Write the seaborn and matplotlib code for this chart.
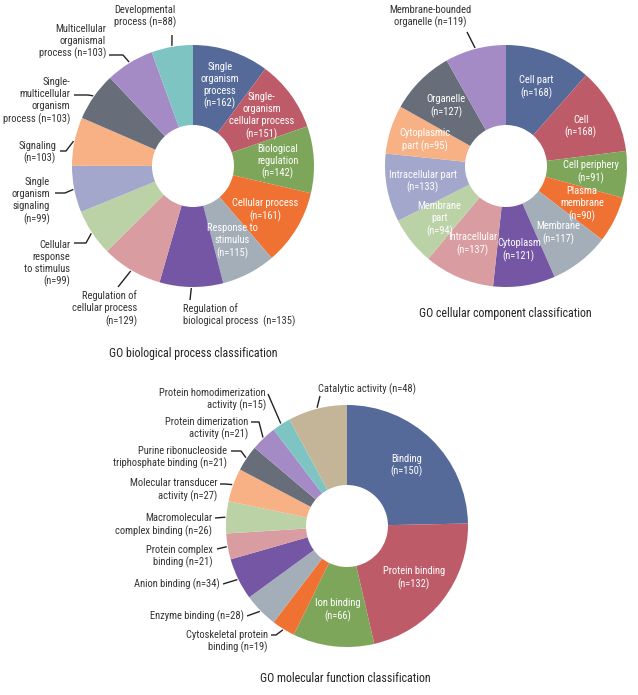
import numpy as np
import matplotlib
matplotlib.use("Agg")
import matplotlib.pyplot as plt
import seaborn as sns

# ---------------- data ----------------
bp_labels = ["Single\norganism\nprocess\n(n={n})",
             "Single-\norganism\ncellular process\n(n={n})",
             "Biological\nregulation\n(n={n})",
             "Cellular process\n(n={n})",
             "Response to\nstimulus\n(n={n})",
             "Regulation of\nbiological process  (n={n})",
             "Regulation of\ncellular process\n(n={n})",
             "Cellular\nresponse\nto stimulus\n(n={n})",
             "Single\norganism\nsignaling\n(n={n})",
             "Signaling\n(n={n})",
             "Single-\nmulticellular\norganism\nprocess (n={n})",
             "Multicellular\norganismal\nprocess (n={n})",
             "Developmental\nprocess (n={n})"]
bp_values = [162, 151, 142, 161, 115, 135, 129, 99, 99, 103, 103, 103, 88]

cc_labels = ["Cell part\n(n={n})",
             "Cell\n(n={n})",
             "Cell periphery\n(n={n})",
             "Plasma\nmembrane\n(n={n})",
             "Membrane\n(n={n})",
             "Cytoplasm\n(n={n})",
             "Intracellular\n(n={n})",
             "Membrane\npart\n(n={n})",
             "Intracellular part\n(n={n})",
             "Cytoplasmic\npart (n={n})",
             "Organelle\n(n={n})",
             "Membrane-bounded\norganelle (n={n})"]
cc_values = [168, 168, 91, 90, 117, 121, 137, 94, 133, 95, 127, 119]

mf_labels = ["Binding\n(n={n})",
             "Protein binding\n(n={n})",
             "Ion binding\n(n={n})",
             "Cytoskeletal protein\nbinding (n={n})",
             "Enzyme binding (n={n})",
             "Anion binding (n={n})",
             "Protein complex\nbinding (n={n})",
             "Macromolecular\ncomplex binding (n={n})",
             "Molecular transducer\nactivity (n={n})",
             "Purine ribonucleoside\ntriphosphate binding (n={n})",
             "Protein dimerization\nactivity (n={n})",
             "Protein homodimerization\nactivity (n={n})",
             "Catalytic activity (n={n})"]
mf_values = [150, 132, 66, 19, 28, 34, 21, 26, 27, 21, 21, 15, 48]

titles = ["GO biological process classification",
          "GO cellular component classification",
          "GO molecular function classification"]

# ---------------- style ----------------
BLUE, RED, GREEN, ORANGE = "#566A9A", "#BE5B68", "#7DA65B", "#F07232"
GREY, PURPLE, PINK, LGREEN = "#A4AEB9", "#7556A4", "#D99CA0", "#BBD1A6"
LLAV, PEACH, DGREY, LAV = "#A3A7CB", "#F7B184", "#676E79", "#A58BC6"
TEAL, TAN = "#7DC4C3", "#C5B598"

bp_colors = [BLUE, RED, GREEN, ORANGE, GREY, PURPLE, PINK, LGREEN, LLAV, PEACH, DGREY, LAV, TEAL]
cc_colors = [BLUE, RED, GREEN, ORANGE, GREY, PURPLE, PINK, LGREEN, LLAV, PEACH, DGREY, LAV]
mf_colors = [BLUE, RED, GREEN, ORANGE, GREY, PURPLE, PINK, LGREEN, PEACH, DGREY, LAV, TEAL, TAN]

# outside-label layout (pixel coords): index -> (text x, text y, ha, anchor x, anchor y, knee dx)
bp_out = {5: (183, 315, "left", 190, 300, 0),
          6: (137, 308.5, "right", 118, 287, 0),
          7: (70, 263.5, "right", 74, 243, 12),
          8: (50, 201, "right", 55, 193, 10),
          9: (56, 152.5, "right", 60, 151, 6),
          10: (70, 101, "right", 74, 95, 14),
          11: (106, 41.5, "right", 109, 55, 14),
          12: (145, 16.5, "center", 172, 35, 0)}
cc_out = {11: (430, 16.5, "center", 467, 32, 0)}
mf_out = {3: (268, 641.5, "right", 271, 635, 5),
          4: (244, 616, "right", 247, 616, 0),
          5: (220, 584, "right", 223, 584, 0),
          6: (213, 556.5, "right", 217, 549, 0),
          7: (212, 525, "right", 215, 518, 0),
          8: (217, 490, "right", 220, 484, 5),
          9: (227, 457.5, "right", 231, 451, 10),
          10: (248, 428.5, "right", 251, 422, 8),
          11: (266, 399.5, "right", 268, 394, 0),
          12: (318, 389, "left", 320, 396, 0)}

W, H = 638, 695
R, R0 = 121, 41
FS = 7.6

sns.set_theme(style="white")
plt.rcParams['font.family'] = ['Roboto Condensed', 'Archivo Narrow', 'PT Sans Narrow',
                               'Open Sans Condensed', 'DejaVu Sans']

fig = plt.figure(figsize=(W / 100, H / 100), dpi=100)
ax = fig.add_axes([0, 0, 1, 1])


def donut(cx, cy, values, labels, colors, out_layout, rfac=0.7):
    cyu = H - cy
    total = float(sum(values))
    ax.pie(values, colors=colors, startangle=90, counterclock=False,
           center=(cx, cyu), radius=R, frame=True,
           wedgeprops=dict(width=R - R0, linewidth=0, edgecolor="none"))
    cum = 0.0
    for i, (v, lab) in enumerate(zip(values, labels)):
        mid = np.deg2rad(90 - 360 * (cum + v / 2) / total)
        cum += v
        txt = lab.format(n=v)
        if i not in out_layout:
            ax.text(cx + rfac * R * np.cos(mid), cyu + rfac * R * np.sin(mid), txt,
                    ha="center", va="center", color="white", fontsize=FS,
                    linespacing=1.25, multialignment="center")
        else:
            tx, ty, ha, axp, ayp, kdx = out_layout[i]
            ax.text(tx, H - ty, txt, ha=ha, va="center", color="#333333",
                    fontsize=FS, linespacing=1.25, multialignment=ha)
            tgt = (cx + (R + 1) * np.cos(mid), cyu + (R + 1) * np.sin(mid))
            xs = [axp, axp + kdx, tgt[0]]
            ys = [H - ayp, H - ayp, tgt[1]]
            ax.plot(xs, ys, color="#222222", lw=1.0, solid_capstyle="butt")


donut(193, 166, bp_values, bp_labels, bp_colors, bp_out)
donut(506, 166, cc_values, cc_labels, cc_colors, cc_out)
donut(347, 526, mf_values, mf_labels, mf_colors, mf_out)

ax.text(193, H - 353, titles[0], ha="center", va="center", fontsize=8.6, color="#222222")
ax.text(505, H - 313, titles[1], ha="center", va="center", fontsize=8.6, color="#222222")
ax.text(345, H - 678, titles[2], ha="center", va="center", fontsize=8.6, color="#222222")

ax.set_xlim(0, W)
ax.set_ylim(0, H)
ax.set_aspect("auto")
ax.axis("off")
fig.savefig("out.png", dpi=100, facecolor="white")
